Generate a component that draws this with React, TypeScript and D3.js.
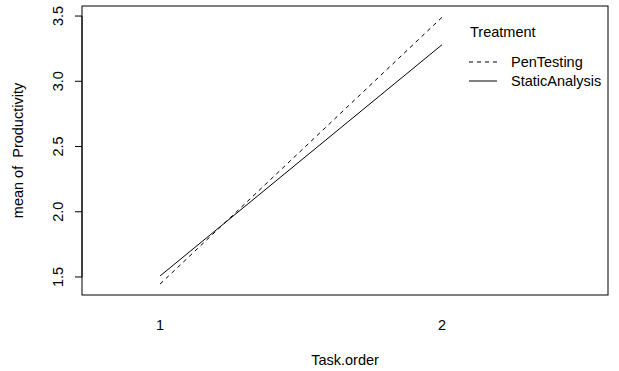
import React from "react";
import { scaleLinear, line } from "d3";

// values
const taskOrder = [1, 2];
const treatments = ["PenTesting", "StaticAnalysis"];
const penTesting = [1.446, 3.49];
const staticAnalysis = [1.508, 3.28];
const yTicks = [1.5, 2.0, 2.5, 3.0, 3.5];
const seriesValues = [penTesting, staticAnalysis];
const dashes = ["4,4", null];

const W = 619;
const H = 371;
const box = { left: 82, right: 608, top: 6, bottom: 295 };

function App() {
  const x = scaleLinear().domain([0.723, 2.589]).range([box.left, box.right]);
  const y = scaleLinear().domain([1.362, 3.577]).range([box.bottom, box.top]);

  const path = line<number>()
    .x((d, i) => x(taskOrder[i]))
    .y((d) => y(d));

  const font = "'Liberation Sans', Arial, Helvetica, sans-serif";

  return (
    <svg
      width={W}
      height={H}
      style={{ position: "absolute", left: 0, top: 0, background: "white" }}
      fontFamily={font}
      fontSize={14.5}
    >
      {/* the series */}
      {seriesValues.map((vals, i) => (
        <path
          key={treatments[i]}
          d={path(vals) || ""}
          fill="none"
          stroke="black"
          strokeWidth={1}
          strokeDasharray={dashes[i] || undefined}
        />
      ))}

      {/* plot frame */}
      <rect
        x={box.left}
        y={box.top}
        width={box.right - box.left}
        height={box.bottom - box.top}
        fill="none"
        stroke="black"
        strokeWidth={1}
      />

      {/* y axis */}
      <line x1={box.left} x2={box.left} y1={y(1.5)} y2={y(3.5)} stroke="black" />
      {yTicks.map((t) => (
        <g key={t}>
          <line x1={box.left - 7} x2={box.left} y1={y(t)} y2={y(t)} stroke="black" />
          <text
            transform={`translate(${box.left - 19},${y(t)}) rotate(-90)`}
            textAnchor="middle"
          >
            {t.toFixed(1)}
          </text>
        </g>
      ))}
      <text
        transform={`translate(23,${(box.top + box.bottom) / 2}) rotate(-90)`}
        textAnchor="middle"
        style={{ whiteSpace: "pre" }}
      >
        {"mean of  Productivity"}
      </text>

      {/* x axis labels, no tick marks */}
      {taskOrder.map((t) => (
        <text key={t} x={x(t)} y={330} textAnchor="middle">
          {t}
        </text>
      ))}
      <text x={(box.left + box.right) / 2} y={365} textAnchor="middle">
        Task.order
      </text>

      {/* legend */}
      <text x={470} y={37}>Treatment</text>
      {treatments.map((name, i) => (
        <g key={name}>
          <line
            x1={469}
            x2={497}
            y1={62 + i * 19}
            y2={62 + i * 19}
            stroke="black"
            strokeDasharray={dashes[i] || undefined}
          />
          <text x={511} y={67 + i * 19}>{name}</text>
        </g>
      ))}
    </svg>
  );
}

export default App;
